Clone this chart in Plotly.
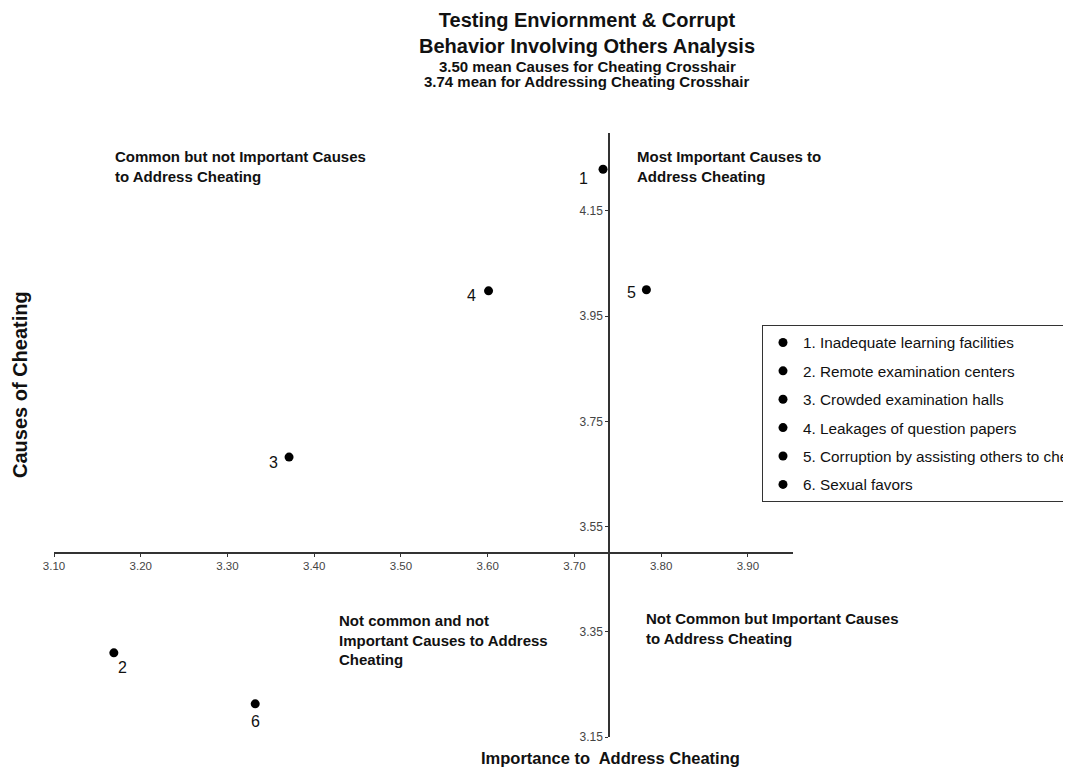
import plotly.graph_objects as go

# ---------------- data ----------------
point_labels = ["1", "2", "3", "4", "5", "6"]
legend_names = [
    "1. Inadequate learning facilities",
    "2. Remote examination centers",
    "3. Crowded examination halls",
    "4. Leakages of question papers",
    "5. Corruption by assisting others to cheat",
    "6. Sexual favors",
]
importance = [3.733, 3.169, 3.371, 3.601, 3.783, 3.332]   # x: Importance to Address Cheating
causes = [4.229, 3.310, 3.682, 3.998, 4.000, 3.213]       # y: Causes of Cheating
x_ticks = [3.10, 3.20, 3.30, 3.40, 3.50, 3.60, 3.70, 3.80, 3.90]
y_ticks = [3.15, 3.35, 3.55, 3.75, 3.95, 4.15]
mean_causes = 3.50       # horizontal crosshair
mean_importance = 3.74   # vertical crosshair
x_range = [3.10, 3.952]
y_range = [3.15, 4.298]

quadrant_texts = [
    "Common but not Important Causes<br>to Address Cheating",
    "Most Important Causes to<br>Address Cheating",
    "Not common and not<br>Important Causes to Address<br>Cheating",
    "Not Common but Important Causes<br>to Address Cheating",
]

# ---------------- style ----------------
FONT = "Liberation Sans, Arial, sans-serif"
OFF = 8                      # default page body margin
W, H = 1071 - OFF, 772 - OFF
ML, MR, MT, MB = 54 - OFF, 278, 133 - OFF, 35
PW, PH = W - ML - MR, H - MT - MB

def px_x(p):
    return (p - OFF - ML) / PW

def px_y(p):
    return (H - MB - (p - OFF)) / PH

label_shift = [(-20, -9), (9, -15), (-16, -5), (-17, -5), (-15, -3), (0, -18)]
quadrant_pos = [(113, 166), (635, 166), (337, 640), (644, 628)]

fig = go.Figure()
for i in range(len(point_labels)):
    fig.add_trace(go.Scatter(
        x=[importance[i]], y=[causes[i]], mode="markers",
        name=legend_names[i], legendgroup=str(i),
        marker=dict(color="black", size=9),
        cliponaxis=False,
    ))
    fig.add_annotation(
        x=importance[i], y=causes[i], xref="x", yref="y",
        text=point_labels[i], showarrow=False,
        xshift=label_shift[i][0], yshift=label_shift[i][1],
        font=dict(family=FONT, size=16, color="#111"),
    )

for txt, (qx, qy) in zip(quadrant_texts, quadrant_pos):
    fig.add_annotation(
        x=px_x(qx), y=px_y(qy), xref="paper", yref="paper",
        xanchor="left", yanchor="middle", align="left",
        text="<b>" + txt + "</b>", showarrow=False,
        font=dict(family=FONT, size=15, color="#111"),
    )

# subtitle lines
fig.add_annotation(x=px_x(587), y=px_y(66), xref="paper", yref="paper",
                   text="<b>3.50 mean Causes for Cheating Crosshair</b>", showarrow=False,
                   xanchor="center", yanchor="middle",
                   font=dict(family=FONT, size=15, color="#111"))
fig.add_annotation(x=px_x(587), y=px_y(82), xref="paper", yref="paper",
                   text="<b>3.74 mean for Addressing Cheating Crosshair</b>", showarrow=False,
                   xanchor="center", yanchor="middle",
                   font=dict(family=FONT, size=15, color="#111"))

# axis titles
fig.add_annotation(x=px_x(20), y=px_y(385), xref="paper", yref="paper",
                   text="<b>Causes of Cheating</b>", textangle=-90, showarrow=False,
                   xanchor="center", yanchor="middle",
                   font=dict(family=FONT, size=20, color="#111"))
fig.add_annotation(x=px_x(610), y=px_y(758), xref="paper", yref="paper",
                   text="<b>Importance to&nbsp; Address Cheating</b>", showarrow=False,
                   xanchor="center", yanchor="middle",
                   font=dict(family=FONT, size=16.5, color="#111"))

fig.update_layout(
    width=W, height=H,
    margin=dict(l=ML, r=MR, t=MT, b=MB, autoexpand=False),
    paper_bgcolor="white", plot_bgcolor="white",
    title=dict(
        text="<b>Testing Enviornment & Corrupt<br>Behavior Involving Others Analysis</b>",
        x=(587 - OFF) / W, xref="container", xanchor="center",
        y=1 - 19 / H, yref="container", yanchor="top",
        font=dict(family=FONT, size=20, color="#111"),
    ),
    xaxis=dict(
        range=x_range, tickvals=x_ticks, tickformat=".2f",
        anchor="free",
        position=(mean_causes - y_range[0]) / (y_range[1] - y_range[0]),
        showline=True, linecolor="#333", linewidth=1.5,
        ticks="outside", ticklen=3, tickcolor="#333",
        showgrid=False, zeroline=False,
        tickfont=dict(family=FONT, size=11.5, color="#444"),
    ),
    yaxis=dict(
        range=y_range, tickvals=y_ticks, tickformat=".2f",
        anchor="free",
        position=(mean_importance - x_range[0]) / (x_range[1] - x_range[0]),
        showline=True, linecolor="#333", linewidth=1.5,
        ticks="outside", ticklen=3, tickcolor="#333",
        showgrid=False, zeroline=False,
        tickfont=dict(family=FONT, size=12, color="#444"),
    ),
    legend=dict(
        xref="container", yref="container",
        x=(762 - OFF) / W, y=1 - (325 - OFF) / H, xanchor="left", yanchor="top",
        bordercolor="#333", borderwidth=1, bgcolor="white",
        font=dict(family=FONT, size=15.3, color="#111"),
        tracegroupgap=5.5,
    ),
    showlegend=True,
)

fig.write_html("out.html")
